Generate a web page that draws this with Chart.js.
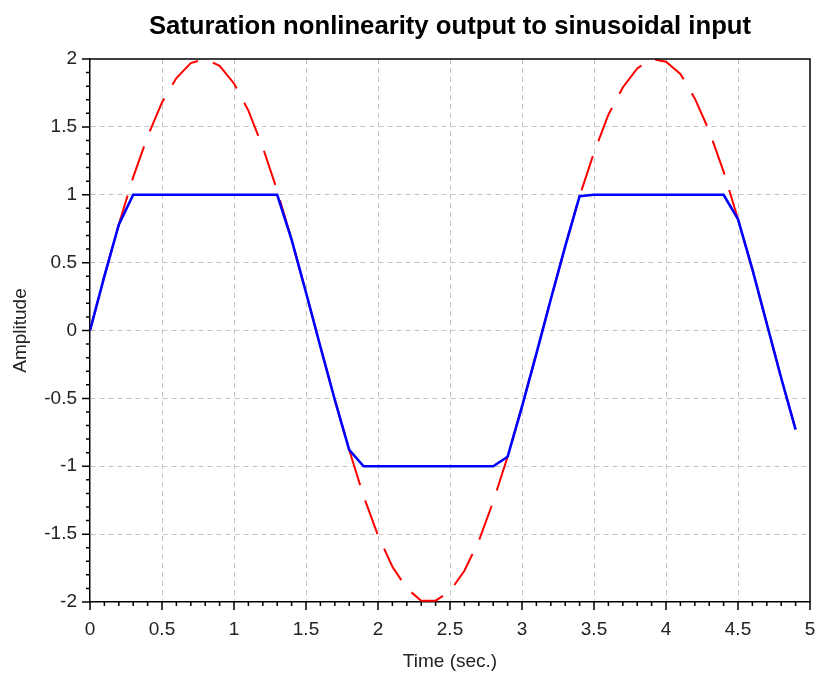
<!DOCTYPE html>
<html>
<head>
<title>Saturation nonlinearity</title>
<style>
  body { margin: 0; background: #ffffff; }
  canvas { display: block; }
</style>
</head>
<body>
<canvas id="satChart" width="819" height="679"></canvas>
<script src="https://cdn.jsdelivr.net/npm/chart.js"></script>
<script>
// time samples (sec.)
const timeValues = [0, 0.1, 0.2, 0.3, 0.4, 0.5, 0.6, 0.7, 0.8, 0.9,
  1.0, 1.1, 1.2, 1.3, 1.4, 1.5, 1.6, 1.7, 1.8, 1.9,
  2.0, 2.1, 2.2, 2.3, 2.4, 2.5, 2.6, 2.7, 2.8, 2.9,
  3.0, 3.1, 3.2, 3.3, 3.4, 3.5, 3.6, 3.7, 3.8, 3.9,
  4.0, 4.1, 4.2, 4.3, 4.4, 4.5, 4.6, 4.7, 4.8, 4.9];

// sinusoidal input (red dashed)
const inputValues = [0, 0.40, 0.78, 1.13, 1.43, 1.68, 1.86, 1.97, 2.0, 1.95,
  1.82, 1.62, 1.35, 1.03, 0.67, 0.28, -0.12, -0.51, -0.88, -1.22,
  -1.51, -1.74, -1.90, -1.99, -1.99, -1.92, -1.77, -1.55, -1.26, -0.93,
  -0.56, -0.17, 0.23, 0.62, 0.99, 1.31, 1.59, 1.79, 1.93, 2.0,
  1.98, 1.89, 1.71, 1.47, 1.17, 0.82, 0.45, 0.05, -0.35, -0.73];

// saturated output (blue)
const outputValues = [0, 0.40, 0.78, 1, 1, 1, 1, 1, 1, 1,
  1, 1, 1, 1, 0.67, 0.28, -0.12, -0.51, -0.88, -1,
  -1, -1, -1, -1, -1, -1, -1, -1, -1, -0.93,
  -0.56, -0.17, 0.23, 0.62, 0.99, 1, 1, 1, 1, 1,
  1, 1, 1, 1, 1, 0.82, 0.45, 0.05, -0.35, -0.73];

const xTickValues = [0, 0.5, 1, 1.5, 2, 2.5, 3, 3.5, 4, 4.5, 5];
const yTickValues = [-2, -1.5, -1, -0.5, 0, 0.5, 1, 1.5, 2];

const chartTitle = 'Saturation nonlinearity output to sinusoidal input';

const inputPoints = timeValues.map((t, i) => ({x: t, y: inputValues[i]}));
const outputPoints = timeValues.map((t, i) => ({x: t, y: outputValues[i]}));

const labelFont = 'Liberation Sans, Arial, sans-serif';

// frame on top/right, outward major/minor ticks and a title centred on the plot box
const framePlugin = {
  id: 'frame',
  afterDraw(chart) {
    const ctx = chart.ctx;
    const a = chart.chartArea;
    const xs = chart.scales.x;
    const ys = chart.scales.y;
    ctx.save();
    ctx.strokeStyle = '#000000';
    ctx.lineWidth = 1.5;
    ctx.beginPath();
    ctx.moveTo(a.left, a.top);
    ctx.lineTo(a.right, a.top);
    ctx.lineTo(a.right, a.bottom);
    ctx.stroke();

    ctx.beginPath();
    for (let i = 0; i <= 50; i++) {
      const px = xs.getPixelForValue(i / 10);
      const len = (i % 5 === 0) ? 8 : 4;
      ctx.moveTo(px, a.bottom);
      ctx.lineTo(px, a.bottom + len);
    }
    for (let i = -20; i <= 20; i++) {
      const py = ys.getPixelForValue(i / 10);
      const len = (i % 5 === 0) ? 8 : 4;
      ctx.moveTo(a.left, py);
      ctx.lineTo(a.left - len, py);
    }
    ctx.stroke();

    ctx.fillStyle = '#000000';
    ctx.font = 'bold 25.7px ' + labelFont;
    ctx.textAlign = 'center';
    ctx.textBaseline = 'alphabetic';
    ctx.fillText(chartTitle, (a.left + a.right) / 2, 34);
    ctx.restore();
  }
};

function gridColor(scaleMin, scaleMax) {
  return (c) => {
    const v = c.tick ? c.tick.value : null;
    if (v === scaleMin || v === scaleMax) return 'rgba(0,0,0,0)';
    return '#c4c4c4';
  };
}

new Chart(document.getElementById('satChart'), {
  type: 'line',
  data: {
    datasets: [{
      label: 'output',
      data: outputPoints,
      borderColor: '#0000ff',
      borderWidth: 2.6,
      pointRadius: 0,
      tension: 0,
      order: 0
    }, {
      label: 'input',
      data: inputPoints,
      borderColor: '#ff0000',
      borderWidth: 2,
      borderDash: [36, 16],
      pointRadius: 0,
      tension: 0,
      order: 1
    }]
  },
  options: {
    responsive: false,
    animation: false,
    layout: { padding: { left: 0, right: 9, top: 59, bottom: 0 } },
    plugins: {
      legend: { display: false },
      tooltip: { enabled: false },
      title: { display: false }
    },
    scales: {
      x: {
        type: 'linear',
        min: 0,
        max: 5,
        afterBuildTicks: (s) => { s.ticks = xTickValues.map(v => ({value: v})); },
        afterFit: (s) => { s.height = 77; s.paddingLeft = 0; s.paddingRight = 0; },
        ticks: {
          color: '#222222',
          padding: 16,
          maxRotation: 0,
          callback: (v) => String(v),
          font: { family: labelFont, size: 19 }
        },
        grid: { color: gridColor(0, 5), lineWidth: 1, drawTicks: false },
        border: { color: '#000000', width: 1.5, dash: [5, 4] },
        title: {
          display: true,
          text: 'Time (sec.)',
          color: '#222222',
          font: { family: labelFont, size: 19 },
          padding: { top: 0, bottom: 6 }
        }
      },
      y: {
        type: 'linear',
        min: -2,
        max: 2,
        afterBuildTicks: (s) => { s.ticks = yTickValues.map(v => ({value: v})); },
        afterFit: (s) => { s.width = 90; s.paddingTop = 0; s.paddingBottom = 0; },
        ticks: {
          color: '#222222',
          padding: 13,
          callback: (v) => String(v),
          font: { family: labelFont, size: 19 }
        },
        grid: { color: gridColor(-2, 2), lineWidth: 1, drawTicks: false },
        border: { color: '#000000', width: 1.5, dash: [5, 4] },
        title: {
          display: true,
          text: 'Amplitude',
          color: '#222222',
          font: { family: labelFont, size: 19 },
          padding: { top: 9, bottom: 0 }
        }
      }
    }
  },
  plugins: [framePlugin]
});
</script>
</body>
</html>
